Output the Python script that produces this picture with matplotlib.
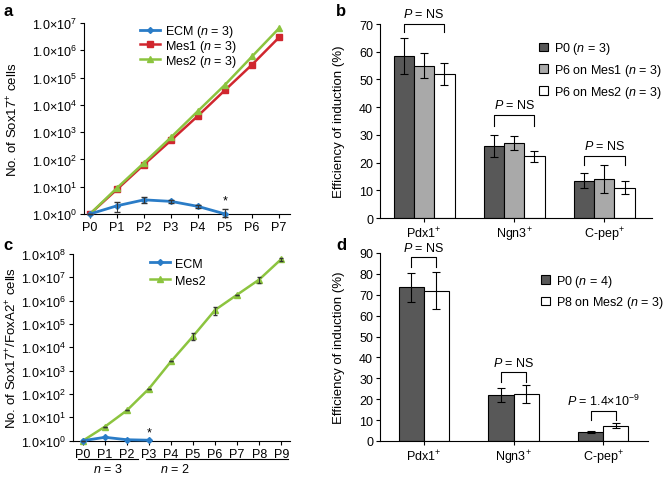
"""
Four-panel figure: Sox17+ expansion on mesenchyme and induction efficiency
"""

import numpy as np
import matplotlib
matplotlib.use("Agg")
import matplotlib.pyplot as plt
import matplotlib.transforms as mtransforms

plt.rcParams["font.family"] = ["Liberation Sans", "DejaVu Sans"]
plt.rcParams["mathtext.fontset"] = "custom"
plt.rcParams["mathtext.rm"] = "Liberation Sans"
plt.rcParams["mathtext.it"] = "Liberation Sans:italic"
plt.rcParams["font.size"] = 9

W, H = 664, 481
FS = 9
LFS = 9.5

# ── Data ──────────────────────────────────────────────────────
a_passages = ["P0", "P1", "P2", "P3", "P4", "P5", "P6", "P7"]
a_ecm = [1.0, 2.0, 3.3, 2.9, 1.9, 1.0]
a_ecm_lo = [1.0, 1.2, 2.6, 2.5, 1.7, 0.8]
a_ecm_hi = [1.0, 2.8, 4.1, 3.3, 2.1, 1.5]
a_mes1 = [1.0, 8.0, 65, 500, 4000, 35000, 3.0e5, 3.0e6]
a_mes2 = [1.0, 9.0, 75, 650, 6000, 55000, 6.0e5, 6.5e6]

c_passages = ["P0", "P1", "P2", "P3", "P4", "P5", "P6", "P7", "P8", "P9"]
c_ecm = [1.0, 1.4, 1.1, 1.05]
c_mes2 = [1.0, 4.0, 20, 170, 2500, 30000, 4.0e5, 1.8e6, 8.0e6, 6.0e7]
c_mes2_lo = [1.0, 4.0, 20, 170, 2500, 20000, 2.5e5, 1.8e6, 6.0e6, 5.0e7]
c_mes2_hi = [1.0, 4.0, 20, 170, 2500, 40000, 5.5e5, 1.8e6, 1.0e7, 7.0e7]

markers_cat = ["Pdx1$^{+}$", "Ngn3$^{+}$", "C-pep$^{+}$"]

b_p0 = [58.3, 26.0, 13.5]
b_p0_err = [6.5, 4.0, 2.8]
b_mes1 = [55.0, 27.0, 14.0]
b_mes1_err = [4.5, 2.5, 5.0]
b_mes2 = [52.0, 22.3, 11.0]
b_mes2_err = [4.0, 2.0, 2.5]

d_p0 = [73.5, 22.0, 4.3]
d_p0_err = [7.0, 3.5, 0.7]
d_mes2 = [72.0, 22.5, 7.3]
d_mes2_err = [9.0, 4.5, 1.3]

b_pvals = ["$P$ = NS", "$P$ = NS", "$P$ = NS"]
d_pvals = ["$P$ = NS", "$P$ = NS", "$P$ = 1.4×10$^{-9}$"]

BLUE = "#2a7cc7"
RED = "#d0262e"
GREEN = "#8cc43f"
DARK = "#585858"
GREY = "#a9a9a9"


def px_axes(fig, left, top, right, bottom):
    return fig.add_axes([left / W, 1 - bottom / H, (right - left) / W, (bottom - top) / H])


def style(ax):
    ax.spines["top"].set_visible(False)
    ax.spines["right"].set_visible(False)
    ax.spines["left"].set_linewidth(0.8)
    ax.spines["bottom"].set_linewidth(0.8)
    ax.tick_params(direction="out", length=3, width=0.8, labelsize=FS, pad=2)


def log_labels(ax, top_exp):
    ax.set_yscale("log")
    ticks = [10.0 ** k for k in range(top_exp + 1)]
    ax.set_yticks(ticks)
    ax.set_yticklabels([f"1.0×10$^{{{k}}}$" for k in range(top_exp + 1)])
    ax.minorticks_off()


def err_bars(ax, x, y, lo, hi, cap):
    y = np.array(y)
    ax.errorbar(x, y, yerr=[y - np.array(lo), np.array(hi) - y], fmt="none",
                ecolor="#333333", elinewidth=0.7, capsize=cap, zorder=6, clip_on=False)


fig = plt.figure(figsize=(W / 100, H / 100), dpi=100)

# ── Panel a ───────────────────────────────────────────────────
ax = px_axes(fig, 84, 24, 290, 215)
style(ax)
xa = np.arange(len(a_passages))
xe = np.arange(len(a_ecm))
ax.plot(xe, a_ecm, color=BLUE, lw=2, marker="D", ms=3, label="ECM ($n$ = 3)", zorder=5,
        clip_on=False)
ax.plot(xa, a_mes1, color=RED, lw=1.8, marker="s", ms=4, label="Mes1 ($n$ = 3)", zorder=3)
ax.plot(xa, a_mes2, color=GREEN, lw=1.8, marker="^", ms=4.5, label="Mes2 ($n$ = 3)", zorder=4)
err_bars(ax, xe, a_ecm, a_ecm_lo, a_ecm_hi, 2)
log_labels(ax, 7)
ax.set_ylim(1, 1e7)
ax.set_xlim(-0.22, 7.4)
ax.set_xticks(xa)
ax.set_xticklabels(a_passages)
ax.set_ylabel("No. of Sox17$^{+}$ cells", fontsize=LFS, labelpad=8)
ax.text(5, 1.9, "*", ha="center", va="bottom", fontsize=FS)
ax.legend(loc="upper left", bbox_to_anchor=(0.27, 1.0), frameon=False, fontsize=FS,
          borderpad=0, borderaxespad=0,
          handlelength=1.6, handletextpad=0.4, labelspacing=-0.1)

# ── Panel c ───────────────────────────────────────────────────
ax = px_axes(fig, 73, 255, 290, 441.7)
style(ax)
xc = np.arange(len(c_passages))
xce = np.arange(len(c_ecm))
ax.plot(xce, c_ecm, color=BLUE, lw=2, marker="D", ms=3, label="ECM", zorder=5, clip_on=False)
ax.plot(xc, c_mes2, color=GREEN, lw=1.8, marker="^", ms=4.5, label="Mes2", zorder=4,
        clip_on=False)
err_bars(ax, xc, c_mes2, c_mes2_lo, c_mes2_hi, 1.5)
log_labels(ax, 8)
ax.set_ylim(1, 1e8)
ax.set_xlim(-0.45, 9.4)
ax.set_xticks(xc)
ax.set_xticklabels(c_passages)
ax.set_ylabel("No. of Sox17$^{+}$/FoxA2$^{+}$ cells", fontsize=LFS, labelpad=1)
ax.text(3, 1.25, "*", ha="center", va="bottom", fontsize=FS)
ax.legend(loc="upper left", bbox_to_anchor=(0.355, 0.98), frameon=False,
          fontsize=FS, borderpad=0, borderaxespad=0,
          handlelength=1.6, handletextpad=0.4, labelspacing=0.4)
trans = mtransforms.blended_transform_factory(ax.transData, ax.transAxes)
ax.plot([-0.23, 2.49], [-0.098, -0.098], color="black", lw=0.8, transform=trans, clip_on=False)
ax.plot([2.85, 9.32], [-0.098, -0.098], color="black", lw=0.8, transform=trans, clip_on=False)
ax.text(1.13, -0.115, "$n$ = 3", transform=trans, ha="center", va="top", fontsize=FS)
ax.text(4.16, -0.115, "$n$ = 2", transform=trans, ha="center", va="top", fontsize=FS)


# ── Bar panels ────────────────────────────────────────────────
def bar_panel(ax, series, errs, colors, labels, width, pvals, brackets, ymax, ystep):
    style(ax)
    x = np.arange(len(markers_cat))
    n = len(series)
    offs = (np.arange(n) - (n - 1) / 2) * width
    for vals, err, col, lab, off in zip(series, errs, colors, labels, offs):
        ax.bar(x + off, vals, width, color=col, edgecolor="black", linewidth=0.8, label=lab, zorder=2)
        ax.errorbar(x + off, vals, yerr=err, fmt="none", ecolor="black", elinewidth=0.8,
                    capsize=3, capthick=0.8, zorder=3)
    for i, (pv, (ytop, ydrop, ytxt)) in enumerate(zip(pvals, brackets)):
        x0, x1 = x[i] + offs[0], x[i] + offs[-1]
        ax.plot([x0, x0, x1, x1], [ydrop, ytop, ytop, ydrop], color="black", lw=0.8, clip_on=False)
        ax.text((x0 + x1) / 2, ytxt, pv, ha="center", va="bottom", fontsize=FS, clip_on=False)
    ax.set_xticks(x)
    ax.set_xticklabels(markers_cat)
    ax.set_ylim(0, ymax)
    ax.set_yticks(np.arange(0, ymax + 1, ystep))
    ax.set_ylabel("Efficiency of induction (%)", fontsize=LFS, labelpad=10)


ax = px_axes(fig, 380, 25, 652, 219)
bar_panel(ax, [b_p0, b_mes1, b_mes2], [b_p0_err, b_mes1_err, b_mes2_err],
          [DARK, GREY, "white"],
          ["P0 ($n$ = 3)", "P6 on Mes1 ($n$ = 3)", "P6 on Mes2 ($n$ = 3)"],
          0.225, b_pvals, [(70, 67, 71.5), (37.2, 33.2, 38.6), (22.4, 19.1, 23.8)], 70, 10)
ax.set_xlim(-0.49, 2.53)
ax.legend(loc="upper left", bbox_to_anchor=(0.585, 0.915), frameon=False, fontsize=FS,
          borderpad=0, borderaxespad=0,
          handlelength=0.7, handleheight=0.7, handletextpad=0.5, labelspacing=0.45)

ax = px_axes(fig, 380, 254, 648, 442)
bar_panel(ax, [d_p0, d_mes2], [d_p0_err, d_mes2_err], [DARK, "white"],
          ["P0 ($n$ = 4)", "P8 on Mes2 ($n$ = 3)"],
          0.28, d_pvals, [(88, 83.3, 89.5), (32.9, 28.4, 34.4), (14.5, 10.2, 16.0)], 90, 10)
ax.set_xlim(-0.49, 2.5)
ax.legend(loc="upper left", bbox_to_anchor=(0.6, 0.895), frameon=False, fontsize=FS,
          borderpad=0, borderaxespad=0,
          handlelength=0.7, handleheight=0.7, handletextpad=0.5, labelspacing=0.45)

# ── Panel letters ─────────────────────────────────────────────
for lab, xp, yp in [("a", 3, 12), ("b", 336, 12), ("c", 3, 246), ("d", 336, 246)]:
    fig.text(xp / W, 1 - yp / H, lab, fontsize=12, fontweight="bold", va="center", ha="left")

fig.savefig("out.png", dpi=100)
